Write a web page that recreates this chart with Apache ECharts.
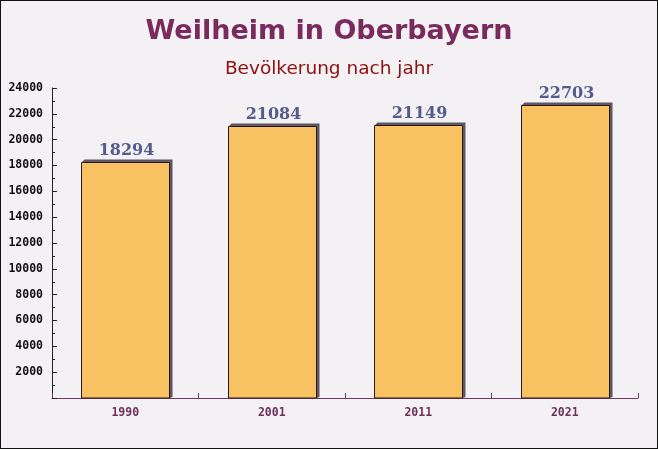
<!DOCTYPE html>
<html>
<head>
<meta charset="utf-8">
<script src="https://cdn.jsdelivr.net/npm/echarts@6/dist/echarts.min.js"></script>
<style>
html,body{margin:0;padding:0;background:#f3f1f3;}
#c{width:658px;height:449px;box-sizing:border-box;border:1px solid #111;}
</style>
</head>
<body>
<div id="c"></div>
<script>
const categories = ['1990', '2001', '2011', '2021'];
const values = [18294, 21084, 21149, 22703];
const yTicks = [0, 2000, 4000, 6000, 8000, 10000, 12000, 14000, 16000, 18000, 20000, 22000, 24000];

const chart = echarts.init(document.getElementById('c'), null, {renderer: 'canvas'});
const data = values.map((v, i) => [i, v]);

chart.setOption({
  backgroundColor: '#f3f1f3',
  animation: false,
  title: [
    {text: 'Weilheim in Oberbayern', left: 'center', top: 12,
     textStyle: {fontFamily: 'DejaVu Sans', fontWeight: 'bold', fontSize: 27, color: '#7a2a5c'}},
    {text: 'Bevölkerung nach jahr', left: 'center', top: 54,
     textStyle: {fontFamily: 'DejaVu Sans', fontWeight: 'normal', fontSize: 18.5, color: '#8b1010'}}
  ],
  grid: {left: 51, right: 19, top: 87, bottom: 50, containLabel: false},
  xAxis: {
    type: 'category', data: categories, boundaryGap: true,
    axisLine: {lineStyle: {color: '#6e3a5e', width: 1}},
    axisTick: {show: true, inside: true, length: 5, interval: 0, lineStyle: {color: '#6e3a5e'}},
    axisLabel: {margin: 9, fontFamily: 'DejaVu Sans Mono', fontWeight: 'bold', fontSize: 11.5, color: '#6e2f5a'}
  },
  yAxis: {
    type: 'value', min: yTicks[0], max: yTicks[yTicks.length - 1], interval: 2000,
    axisLine: {show: true, lineStyle: {color: '#222', width: 1}},
    axisTick: {show: true, inside: true, length: 5, lineStyle: {color: '#222'}},
    minorTick: {show: true, splitNumber: 2, length: 3, lineStyle: {color: '#222'}},
    splitLine: {show: false},
    axisLabel: {margin: 9, fontFamily: 'DejaVu Sans Mono', fontWeight: 'bold', fontSize: 11.5, color: '#111',
      formatter: v => v === 0 ? '' : String(v)}
  },
  series: [{
    type: 'custom',
    data: data,
    encode: {x: 0, y: 1},
    renderItem: function (params, api) {
      const top = api.coord([api.value(0), api.value(1)]);
      const base = api.coord([api.value(0), 0]);
      const w = api.size([1, 0])[0] * 0.6;
      const l = Math.round(top[0] - w / 2) + 0.5;
      const r = Math.round(top[0] + w / 2) + 0.5;
      const t = Math.round(top[1]) + 0.5;
      const b = Math.round(base[1]);
      const d = 3;
      return {
        type: 'group',
        children: [
          {type: 'polygon', shape: {points: [[l, t], [l + d, t - d], [r + d, t - d], [r + d, b - 1], [r, b], [r, t]]},
           style: {fill: '#5f5662'}},
          {type: 'rect', shape: {x: l, y: t, width: r - l, height: b - t},
           style: {fill: '#f8c162', stroke: '#2a1820', lineWidth: 1}},
          {type: 'text', x: (l + r) / 2 + 1, y: t - 4,
           style: {text: String(api.value(1)), align: 'center', verticalAlign: 'bottom',
             fontFamily: 'DejaVu Serif', fontWeight: 'bold', fontSize: 16, fill: '#545c8c'}}
        ]
      };
    }
  }]
});
</script>
</body>
</html>
